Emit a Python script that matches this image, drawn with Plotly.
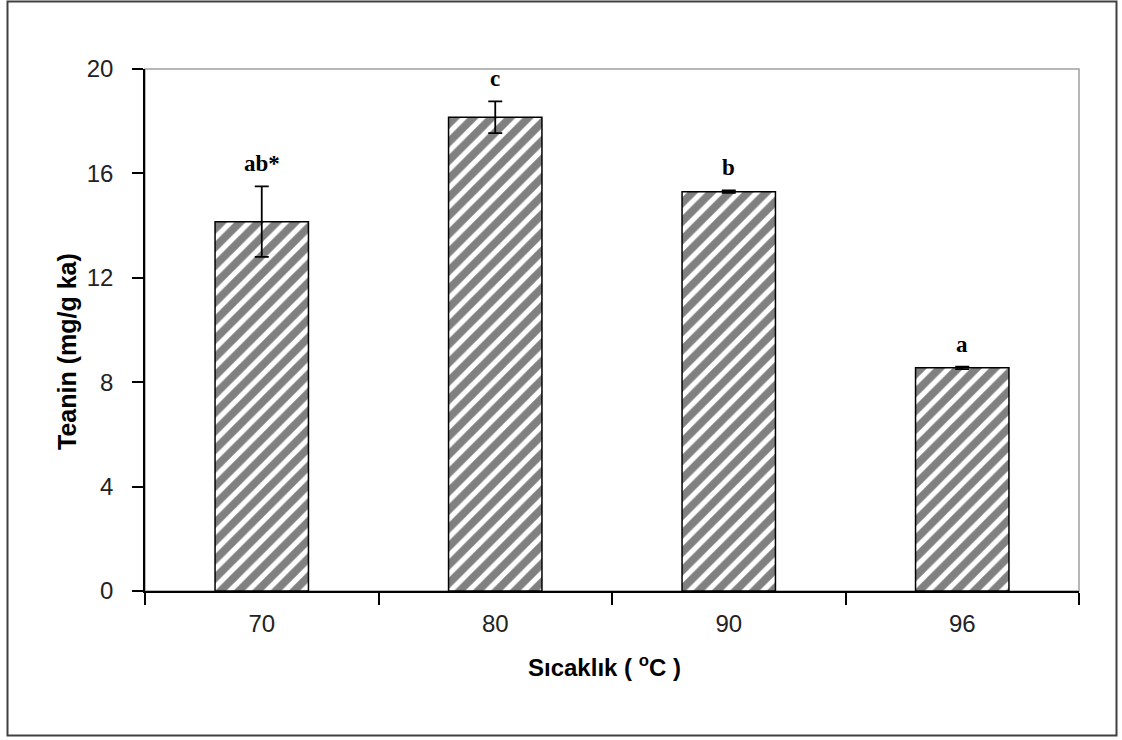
import plotly.graph_objects as go

# ---- data ----
categories = ["70", "80", "90", "96"]
teanin = [14.15, 18.15, 15.30, 8.55]
errors = [1.35, 0.61, 0.05, 0.05]
letters = ["ab*", "c", "b", "a"]
y_ticks = [0, 4, 8, 12, 16, 20]

W, H = 1122, 740
L, R, T, B = 145, 43, 69, 149
pw, ph = W - L - R, H - T - B

def px_x(p):
    return (p - L) / pw

def px_y(p):
    return (H - B - p) / ph

fig = go.Figure()
fig.add_trace(go.Bar(
    x=categories, y=teanin, width=0.4,
    marker=dict(
        color="#808080",
        line=dict(color="black", width=1.5),
        pattern=dict(shape="/", fgcolor="white", bgcolor="#808080",
                     size=13, solidity=0.4, fillmode="replace"),
    ),
    error_y=dict(type="data", array=errors, visible=True,
                 color="black", thickness=1.8, width=7),
    showlegend=False,
))

for i, (v, e, t) in enumerate(zip(teanin, errors, letters)):
    fig.add_annotation(x=i, y=v + e, xref="x", yref="y", text="<b>%s</b>" % t,
                       showarrow=False, yanchor="bottom", yshift=8,
                       font=dict(family="Liberation Serif, Times New Roman, serif",
                                 size=23, color="black"))

# axis titles
fig.add_annotation(xref="paper", yref="paper", x=px_x(604), y=px_y(683),
                   text="<b>Sıcaklık ( <sup>o</sup>C )</b>", showarrow=False,
                   font=dict(family="Liberation Sans, Arial, sans-serif", size=24, color="black"))
fig.add_annotation(xref="paper", yref="paper", x=px_x(51), y=px_y(352),
                   text="<b>Teanin (mg/g ka)</b>", showarrow=False, textangle=-90,
                   font=dict(family="Liberation Sans, Arial, sans-serif", size=25, color="black"))

# plot-area frame (gray) and outer chart border
fig.add_shape(type="rect", xref="paper", yref="paper", x0=0, y0=0, x1=1, y1=1,
              line=dict(color="#a0a0a0", width=1.5), layer="below")
fig.add_shape(type="rect", xref="paper", yref="paper",
              x0=px_x(7.5), x1=px_x(1116.5), y0=px_y(735.5), y1=px_y(1.5),
              line=dict(color="#404040", width=2))

fig.update_layout(
    width=W, height=H,
    margin=dict(l=L, r=R, t=T, b=B),
    paper_bgcolor="white", plot_bgcolor="white",
    font=dict(family="Liberation Sans, Arial, sans-serif", size=24, color="#222222"),
    xaxis=dict(type="category", range=[-0.5, 3.5], tickson="boundaries",
               ticks="outside", ticklen=12, tickwidth=1.5, tickcolor="black",
               showline=True, linecolor="black", linewidth=1.5,
               showgrid=False, ticklabelstandoff=10),
    yaxis=dict(range=[0, 20], tickvals=y_ticks, ticks="outside", ticklen=11,
               tickwidth=1.5, tickcolor="black", showline=True, linecolor="black",
               linewidth=1.5, showgrid=False, zeroline=False, ticklabelstandoff=14),
)

fig.write_html("out.html")
